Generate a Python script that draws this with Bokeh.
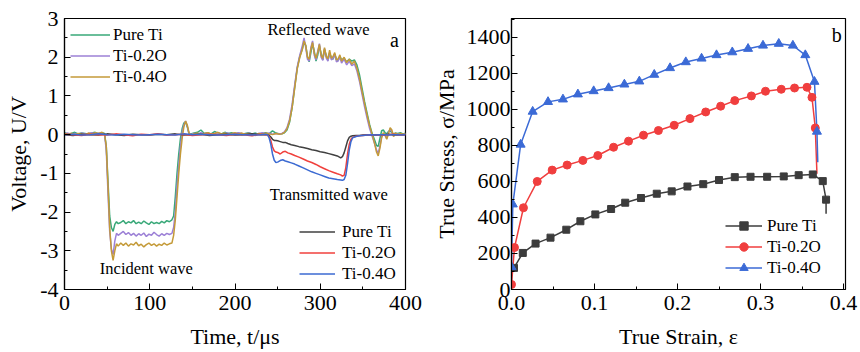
from bokeh.plotting import figure
from bokeh.layouts import row
from bokeh.models import (Legend, LegendItem, Label, SingleIntervalTicker,
                          NumeralTickFormatter, Range1d)
from bokeh.embed import file_html
from bokeh.resources import INLINE

FONT = "Liberation Serif"

# ---------------- Panel a: voltage signals ----------------
t_inc = [0, 4, 8, 12, 16, 20, 24, 28, 32, 36, 40, 44, 47,
         49, 51, 53, 55, 57, 59, 61, 63,
         66, 69, 72, 75, 78, 81, 84, 87, 90, 93, 96, 99, 102, 105, 108, 111, 114, 117, 120, 123, 126,
         128, 130, 132, 134, 136, 138, 140, 142, 144, 146, 148,
         152, 156, 160, 164, 168, 172, 176, 180, 184, 188, 192, 196, 200, 204, 208, 212, 216, 220,
         224, 228, 232, 236, 240, 244, 248, 252,
         255, 258, 261, 264, 267, 270, 273, 276, 279,
         281, 283, 285, 287, 289, 291, 293, 295, 297, 299, 301, 303, 305, 307, 309, 311, 313, 315,
         317, 319, 321, 323, 325,
         328, 331, 334, 337, 340, 343, 346, 349, 352, 355, 358, 361, 364,
         366, 368, 370, 372, 374, 376, 378, 380, 382, 384, 386, 388,
         391, 394, 397, 400]

v_inc_pure = [0.05, 0.02, 0.03, 0.06, 0.02, 0.04, 0.03, 0.01, 0.04, 0.06, 0.02, 0.05, 0.03,
              -0.3, -1.2, -2.1, -2.4, -2.5, -2.32, -2.25, -2.3,
              -2.27, -2.22, -2.3, -2.25, -2.28, -2.22, -2.3, -2.26, -2.3, -2.23, -2.28, -2.32, -2.25,
              -2.3, -2.27, -2.3, -2.24, -2.28, -2.22, -2.25, -2.2,
              -2.1, -1.6, -1.0, -0.5, -0.1, 0.15, 0.3, 0.33, 0.2, 0.03, 0.02,
              0.04, 0.06, 0.12, 0.03, 0.05, 0.02, 0.08, 0.04, 0.02, 0.06, 0.03, 0.05, 0.02, 0.04, 0.0,
              0.03, 0.05, 0.02, 0.04, 0.01, 0.03, 0.05, 0.02, 0.1, 0.04, 0.02,
              0.02, 0.05, 0.12, 0.32, 0.7, 1.22, 1.72, 2.02, 2.22,
              2.4, 2.3, 2.02, 1.88, 2.12, 2.35, 2.15, 1.9, 2.05, 2.3, 2.1, 1.93, 2.2, 2.05, 1.92, 2.1,
              2.0, 1.95, 2.08, 1.95, 1.92, 2.02, 1.93,
              1.97, 1.88, 1.95, 1.9, 1.93, 1.8, 1.55, 1.2, 0.85, 0.55, 0.25, 0.02, -0.15,
              -0.28, -0.3, -0.1, 0.1, 0.12, 0.05, 0.02, 0.08, 0.1, 0.05, 0.02, 0.04,
              0.03, 0.05, 0.02, 0.04]

v_inc_02 = [0.02, 0.04, 0.01, 0.03, 0.0, 0.04, 0.02, 0.03, 0.05, 0.01, 0.04, 0.02, 0.0,
            -0.4, -1.5, -2.5, -2.95, -3.1, -2.75, -2.55, -2.6,
            -2.55, -2.5, -2.58, -2.53, -2.6, -2.55, -2.62, -2.56, -2.6, -2.54, -2.63, -2.57, -2.6,
            -2.52, -2.58, -2.62, -2.56, -2.6, -2.55, -2.58, -2.55,
            -2.4, -2.0, -1.3, -0.8, -0.3, 0.05, 0.25, 0.35, 0.22, 0.03, 0.0,
            0.03, 0.01, 0.05, 0.02, 0.04, 0.0, 0.03, 0.05, 0.01, 0.03, 0.04, 0.0, 0.02, 0.05, 0.03,
            0.01, 0.04, 0.02, 0.0, 0.03, 0.05, 0.02, 0.04, 0.01, 0.03, 0.02,
            0.03, 0.07, 0.18, 0.4, 0.78, 1.28, 1.75, 2.05, 2.3,
            2.5, 2.25, 1.95, 1.9, 2.25, 2.42, 2.05, 1.93, 2.15, 2.35, 2.0, 1.92, 2.22, 1.98, 1.9, 2.12,
            1.93, 1.97, 2.08, 1.88, 1.9, 2.02, 1.85,
            1.95, 1.8, 1.9, 1.78, 1.83, 1.65, 1.38, 1.05, 0.72, 0.42, 0.15, -0.05, -0.25,
            -0.4, -0.48, -0.3, -0.05, 0.03, -0.02, -0.1, 0.05, 0.15, 0.08, -0.03, 0.02,
            0.01, 0.02, 0.0, 0.03]

v_inc_04 = [0.03, 0.01, 0.04, 0.0, 0.03, 0.02, 0.0, 0.04, 0.02, 0.05, 0.03, 0.06, 0.01,
            -0.3, -1.3, -2.4, -3.0, -3.25, -3.0, -2.82, -2.88,
            -2.8, -2.86, -2.8, -2.88, -2.82, -2.85, -2.78, -2.87, -2.83, -2.9, -2.84, -2.8, -2.86,
            -2.82, -2.88, -2.83, -2.86, -2.8, -2.85, -2.82, -2.8,
            -2.6, -2.2, -1.6, -1.0, -0.5, -0.1, 0.2, 0.35, 0.25, 0.05, -0.02,
            0.02, 0.04, 0.0, 0.03, 0.05, 0.01, 0.03, 0.06, 0.02, 0.04, 0.0, 0.03, 0.05, 0.02, 0.04,
            0.01, 0.03, 0.0, -0.02, 0.03, 0.01, 0.04, 0.02, 0.0, 0.03, 0.01,
            0.02, 0.06, 0.15, 0.35, 0.7, 1.2, 1.7, 2.0, 2.2,
            2.42, 2.3, 2.0, 1.95, 2.2, 2.38, 2.1, 1.97, 2.12, 2.33, 2.05, 1.97, 2.25, 2.02, 1.96, 2.18,
            1.97, 2.02, 2.12, 1.93, 1.96, 2.06, 1.9,
            2.0, 1.86, 1.95, 1.82, 1.9, 1.72, 1.45, 1.12, 0.8, 0.5, 0.22, 0.0, -0.25,
            -0.45, -0.55, -0.35, -0.08, 0.05, 0.0, -0.12, 0.02, 0.18, 0.12, -0.05, 0.04,
            0.0, 0.03, 0.01, 0.02]

t_tr = [0, 10, 20, 30, 40, 50, 60, 70, 80, 90, 100, 110, 120, 130, 140, 150, 160, 170, 180, 190,
        200, 210, 220, 230, 236,
        238, 240, 242, 244, 246, 248, 250, 253, 256, 259, 262, 266, 270,
        275, 280, 285, 290, 295, 300, 305, 310, 315, 320,
        324, 326, 328, 330, 332, 334, 336, 338, 342, 346, 350,
        355, 360, 365, 370, 375, 380, 385, 390, 395, 400]

v_tr_pure = [0.0, -0.02, 0.01, 0.0, -0.01, 0.02, 0.0, -0.02, 0.01, 0.0, -0.01, 0.01, 0.0, 0.02,
             -0.01, 0.0, 0.01, -0.02, 0.0, 0.01, -0.01, 0.0, 0.02, 0.0, 0.0,
             0.0, -0.02, -0.06, -0.12, -0.15, -0.15, -0.16, -0.18, -0.2, -0.2, -0.23, -0.26, -0.28,
             -0.31, -0.33, -0.36, -0.39, -0.41, -0.44, -0.46, -0.49, -0.52, -0.55,
             -0.6, -0.57, -0.47, -0.32, -0.16, -0.07, -0.04, -0.03, -0.02, -0.02, -0.01,
             0.0, -0.01, 0.0, -0.01, 0.0, 0.01, 0.0, -0.01, 0.0, 0.0]

v_tr_02 = [0.01, 0.0, -0.02, 0.01, 0.0, -0.01, 0.02, 0.0, -0.03, 0.01, 0.0, 0.02, -0.01, 0.0,
           0.01, -0.02, 0.0, 0.01, 0.0, -0.02, 0.01, 0.0, -0.03, 0.01, 0.0,
           0.0, -0.05, -0.15, -0.32, -0.42, -0.45, -0.46, -0.5, -0.45, -0.43, -0.47, -0.5, -0.54,
           -0.58, -0.63, -0.68, -0.72, -0.77, -0.83, -0.88, -0.93, -0.97, -1.01,
           -1.04, -1.07, -1.05, -0.85, -0.5, -0.25, -0.12, -0.07, -0.04, -0.03, -0.02,
           -0.01, 0.0, -0.01, 0.0, -0.01, 0.0, 0.01, 0.0, -0.01, 0.0]

v_tr_04 = [0.0, 0.01, -0.01, 0.0, 0.02, 0.0, -0.01, 0.01, 0.0, -0.01, 0.0, 0.01, 0.0, -0.01,
           0.02, 0.0, 0.01, 0.0, -0.01, 0.0, 0.01, 0.0, -0.01, 0.0, 0.01,
           0.0, -0.08, -0.25, -0.5, -0.66, -0.72, -0.71, -0.67, -0.65, -0.68, -0.7, -0.73, -0.76,
           -0.81, -0.86, -0.91, -0.96, -1.0, -1.04, -1.08, -1.12, -1.14, -1.16,
           -1.17, -1.18, -1.16, -1.05, -0.75, -0.4, -0.18, -0.08, -0.05, -0.03, -0.02,
           -0.01, 0.0, -0.01, 0.0, 0.0, -0.01, 0.0, 0.0, -0.01, 0.0]

# ---------------- Panel b: true stress-strain ----------------
strain_ti = [0.003, 0.0136, 0.029, 0.047, 0.066, 0.083, 0.101, 0.12, 0.137, 0.156, 0.175, 0.193,
             0.212, 0.231, 0.25, 0.269, 0.288, 0.308, 0.328, 0.346, 0.363, 0.375, 0.379]
stress_ti = [120, 203, 255, 288, 332, 379, 417, 447, 482, 508, 532, 545,
             572, 585, 608, 624, 626, 626, 628, 635, 639, 602, 499]
tail_ti = (0.379, 421)

strain_02 = [0.0, 0.0036, 0.0144, 0.031, 0.049, 0.067, 0.086, 0.104, 0.123, 0.141, 0.159, 0.177,
             0.196, 0.215, 0.234, 0.252, 0.269, 0.289, 0.306, 0.325, 0.341, 0.356, 0.362, 0.366]
stress_02 = [28, 233, 454, 600, 663, 691, 717, 744, 790, 824, 857, 883,
             912, 949, 986, 1018, 1049, 1075, 1101, 1112, 1119, 1123, 1067, 897]
tail_02 = (0.368, 643)

strain_04 = [0.0, 0.0016, 0.011, 0.0255, 0.044, 0.062, 0.080, 0.099, 0.117, 0.136, 0.154, 0.172,
             0.191, 0.210, 0.229, 0.247, 0.266, 0.285, 0.303, 0.322, 0.339, 0.354, 0.365, 0.368]
stress_04 = [125, 473, 805, 988, 1042, 1056, 1084, 1102, 1119, 1139, 1156, 1193,
             1230, 1263, 1283, 1302, 1318, 1337, 1355, 1365, 1355, 1302, 1154, 877]
tail_04 = (0.369, 707)

names = ["Pure Ti", "Ti-0.2O", "Ti-0.4O"]
inc_colors = ["#38a878", "#9c80d6", "#c49a38"]
tr_colors = ["#404040", "#f0403c", "#3b6ad2"]
ss_colors = ["#3c3c3c", "#f03e3e", "#3b6ad6"]


def style(p, xint, yint, xfmt, yfmt, xlabel, ylabel):
    p.grid.visible = False
    p.outline_line_color = "black"
    p.outline_line_width = 1.2
    p.background_fill_color = "white"
    p.border_fill_color = "white"
    p.xaxis.ticker = SingleIntervalTicker(interval=xint, num_minor_ticks=2)
    p.yaxis.ticker = SingleIntervalTicker(interval=yint, num_minor_ticks=2)
    p.xaxis.formatter = NumeralTickFormatter(format=xfmt)
    p.yaxis.formatter = NumeralTickFormatter(format=yfmt)
    p.xaxis.axis_label = xlabel
    p.yaxis.axis_label = ylabel
    for ax in (p.xaxis, p.yaxis):
        ax.major_tick_in = 6
        ax.major_tick_out = 0
        ax.minor_tick_in = 3
        ax.minor_tick_out = 0
        ax.axis_line_color = "black"
        ax.axis_line_width = 1.2
        ax.major_tick_line_color = "black"
        ax.minor_tick_line_color = "black"
        ax.major_label_text_font = FONT
        ax.major_label_text_font_size = "22px"
        ax.major_label_text_color = "black"
        ax.axis_label_text_font = FONT
        ax.axis_label_text_font_size = "22px"
        ax.axis_label_text_font_style = "normal"
        ax.axis_label_text_color = "black"
    p.xaxis.major_label_standoff = 6
    p.yaxis.major_label_standoff = 6
    p.xaxis.axis_label_standoff = 11
    p.yaxis.axis_label_standoff = 6


def lbl(p, x, y, text, size="16.5px"):
    p.add_layout(Label(x=x, y=y, text=text, text_font=FONT, text_font_size=size,
                       text_align="center", text_baseline="middle", text_color="black"))


# ----- left figure -----
p1 = figure(width=430, height=352, x_range=Range1d(0, 400), y_range=Range1d(-4, 3),
            output_backend="svg", toolbar_location=None,
            min_border_left=64, min_border_right=25, min_border_top=16, min_border_bottom=63)
style(p1, 100, 1, "0", "0", "Time, t/\u03bcs", "Voltage, U/V")

inc_r = []
for v, c in zip([v_inc_pure, v_inc_02, v_inc_04], inc_colors):
    inc_r.append(p1.line(t_inc, v, line_color=c, line_width=1.5))
tr_r = []
for v, c in zip([v_tr_pure, v_tr_02, v_tr_04], tr_colors):
    tr_r.append(p1.line(t_tr, v, line_color=c, line_width=1.5))

leg_common = dict(label_text_font=FONT, label_text_font_size="17px", glyph_height=21,
                  label_height=21, spacing=0, padding=0, margin=0, border_line_alpha=0,
                  background_fill_alpha=0, label_text_color="black")
leg1 = Legend(items=[LegendItem(label=n, renderers=[r]) for n, r in zip(names, inc_r)],
              location=(6, 202), glyph_width=40, label_standoff=3, **leg_common)
leg2 = Legend(items=[LegendItem(label=n, renderers=[r]) for n, r in zip(names, tr_r)],
              location=(235, 5), glyph_width=36, label_standoff=7, **leg_common)
p1.add_layout(leg1, "center")
p1.add_layout(leg2, "center")

lbl(p1, 298, 2.72, "Reflected wave")
lbl(p1, 387, 2.44, "a", size="20px")
lbl(p1, 310, -1.54, "Transmitted wave")
lbl(p1, 96, -3.46, "Incident wave")

# ----- right figure -----
p2 = figure(width=430, height=352, x_range=Range1d(0, 0.4024), y_range=Range1d(0, 1505),
            output_backend="svg", toolbar_location=None,
            min_border_left=79, min_border_right=15, min_border_top=18, min_border_bottom=62)
style(p2, 0.1, 200, "0.0", "0", "True Strain, \u03b5", "True Stress, \u03c3/MPa")
p2.yaxis.major_label_standoff = 1
p2.yaxis.axis_label_standoff = 5

l_ti = p2.line(strain_ti + [tail_ti[0]], stress_ti + [tail_ti[1]], line_color=ss_colors[0], line_width=1.5)
l_02 = p2.line(strain_02 + [tail_02[0]], stress_02 + [tail_02[1]], line_color=ss_colors[1], line_width=1.5)
l_04 = p2.line(strain_04 + [tail_04[0]], stress_04 + [tail_04[1]], line_color=ss_colors[2], line_width=1.5)
m_ti = p2.scatter(strain_ti, stress_ti, marker="square", size=7, color=ss_colors[0])
m_02 = p2.scatter(strain_02, stress_02, marker="circle", size=8, color=ss_colors[1])
m_04 = p2.scatter(strain_04, stress_04, marker="triangle", size=9, color=ss_colors[2])

leg3 = Legend(items=[LegendItem(label=names[0], renderers=[l_ti, m_ti]),
                     LegendItem(label=names[1], renderers=[l_02, m_02]),
                     LegendItem(label=names[2], renderers=[l_04, m_04])],
              location=(214, 11), glyph_width=37, label_standoff=5, **leg_common)
p2.add_layout(leg3, "center")

lbl(p2, 0.392, 1411, "b", size="20px")

layout = row(p1, p2)
open("out.html", "w").write(file_html(layout, INLINE))
